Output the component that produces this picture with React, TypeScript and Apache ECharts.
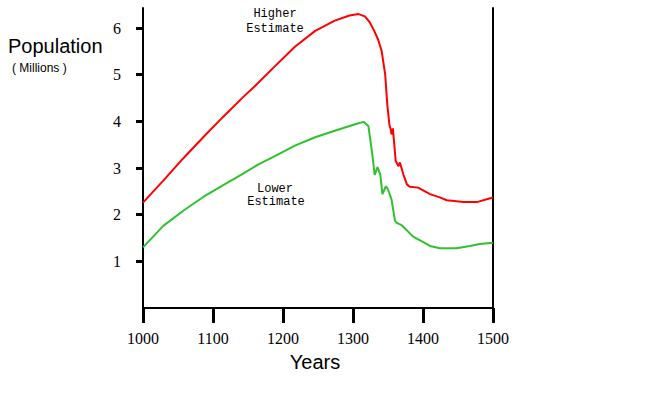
import React, { useEffect, useRef } from "react";
import * as echarts from "echarts";

const xTicks = [1000, 1100, 1200, 1300, 1400, 1500];
const yTicks = [1, 2, 3, 4, 5, 6];

const higherYears = [1000, 1029, 1057, 1086, 1114, 1143, 1160, 1189, 1217, 1246, 1274, 1295, 1308, 1317, 1324, 1330, 1336, 1341, 1346, 1349, 1352, 1354, 1355, 1357, 1359, 1361, 1365, 1367, 1372, 1377, 1381, 1393, 1410, 1424, 1434, 1458, 1477, 1491, 1500];
const higherValues = [2.26, 2.73, 3.2, 3.66, 4.09, 4.52, 4.76, 5.19, 5.6, 5.94, 6.16, 6.27, 6.3, 6.25, 6.12, 5.95, 5.75, 5.5, 5.0, 4.36, 3.93, 3.82, 3.72, 3.85, 3.5, 3.15, 3.04, 3.12, 2.86, 2.65, 2.6, 2.58, 2.44, 2.37, 2.31, 2.27, 2.27, 2.33, 2.37];

const lowerYears = [1000, 1029, 1057, 1086, 1114, 1143, 1165, 1189, 1217, 1246, 1274, 1303, 1315, 1322, 1327, 1331, 1335, 1339, 1342, 1347, 1350, 1355, 1360, 1362, 1370, 1386, 1410, 1424, 1448, 1467, 1481, 1500];
const lowerValues = [1.3, 1.76, 2.08, 2.38, 2.63, 2.88, 3.08, 3.26, 3.48, 3.66, 3.8, 3.94, 3.99, 3.9, 3.36, 2.85, 3.02, 2.86, 2.44, 2.61, 2.54, 2.33, 1.87, 1.83, 1.77, 1.53, 1.33, 1.28, 1.28, 1.33, 1.37, 1.4];

const pair = (xs: number[], ys: number[]) => xs.map((x, i) => [x, ys[i]]);

export default function App() {
  const ref = useRef<HTMLDivElement>(null);
  useEffect(() => {
    if (!ref.current) return;
    const chart = echarts.init(ref.current, null, { renderer: "svg" });
    const yMax = 6.43;
    const mono = { fontFamily: "Liberation Mono", fontSize: 12, fill: "#000", align: "center", verticalAlign: "middle" };
    chart.setOption({
      animation: false,
      backgroundColor: "#ffffff",
      grid: { left: 143, right: 168, top: 8, bottom: 85 },
      xAxis: {
        type: "value",
        min: 1000,
        max: 1500,
        interval: 100,
        axisLine: { show: true, lineStyle: { color: "#000", width: 2 } },
        axisTick: { show: true, length: 15, customValues: xTicks, lineStyle: { color: "#000", width: 3 } },
        axisLabel: {
          customValues: xTicks,
          formatter: (v: number) => String(v),
          margin: 22,
          color: "#000",
          fontFamily: "Liberation Serif",
          fontSize: 16,
        },
        splitLine: { show: false },
      },
      yAxis: [
        {
          type: "value",
          min: 0,
          max: yMax,
          interval: 1,
          axisLine: { show: true, lineStyle: { color: "#000", width: 2 } },
          axisTick: { show: true, length: 7, customValues: yTicks, lineStyle: { color: "#000", width: 3 } },
          axisLabel: {
            customValues: yTicks,
            formatter: (v: number) => String(v),
            margin: 22,
            color: "#000",
            fontFamily: "Liberation Serif",
            fontSize: 16,
          },
          splitLine: { show: false },
        },
        {
          type: "value",
          position: "right",
          min: 0,
          max: yMax,
          interval: 1,
          axisLine: { show: true, lineStyle: { color: "#000", width: 2 } },
          axisTick: { show: false },
          axisLabel: { show: false },
          splitLine: { show: false },
        },
      ],
      series: [
        {
          name: "Higher Estimate",
          type: "line",
          data: pair(higherYears, higherValues),
          showSymbol: false,
          lineStyle: { color: "#ff0000", width: 2 },
          itemStyle: { color: "#ff0000" },
        },
        {
          name: "Lower Estimate",
          type: "line",
          data: pair(lowerYears, lowerValues),
          showSymbol: false,
          lineStyle: { color: "#2ec22e", width: 2 },
          itemStyle: { color: "#2ec22e" },
        },
      ],
      graphic: [
        {
          type: "text",
          left: 8,
          top: 36,
          style: { text: "Population", fontFamily: "Liberation Sans", fontSize: 20, fill: "#000" },
        },
        {
          type: "text",
          left: 12,
          top: 62,
          style: { text: "( Millions )", fontFamily: "Liberation Sans", fontSize: 12, fill: "#000" },
        },
        {
          type: "text",
          x: 315,
          y: 362,
          style: { text: "Years", fontFamily: "Liberation Sans", fontSize: 20, fill: "#000", align: "center", verticalAlign: "middle" },
        },
        { type: "text", x: 275, y: 14, style: { ...mono, text: "Higher" } },
        { type: "text", x: 275, y: 29, style: { ...mono, text: "Estimate" } },
        { type: "text", x: 275, y: 189, style: { ...mono, text: "Lower" } },
        { type: "text", x: 276, y: 202, style: { ...mono, text: "Estimate" } },
      ],
    });
    return () => chart.dispose();
  }, []);
  return <div ref={ref} style={{ position: "fixed", left: 0, top: 0, width: 661, height: 393 }} />;
}
